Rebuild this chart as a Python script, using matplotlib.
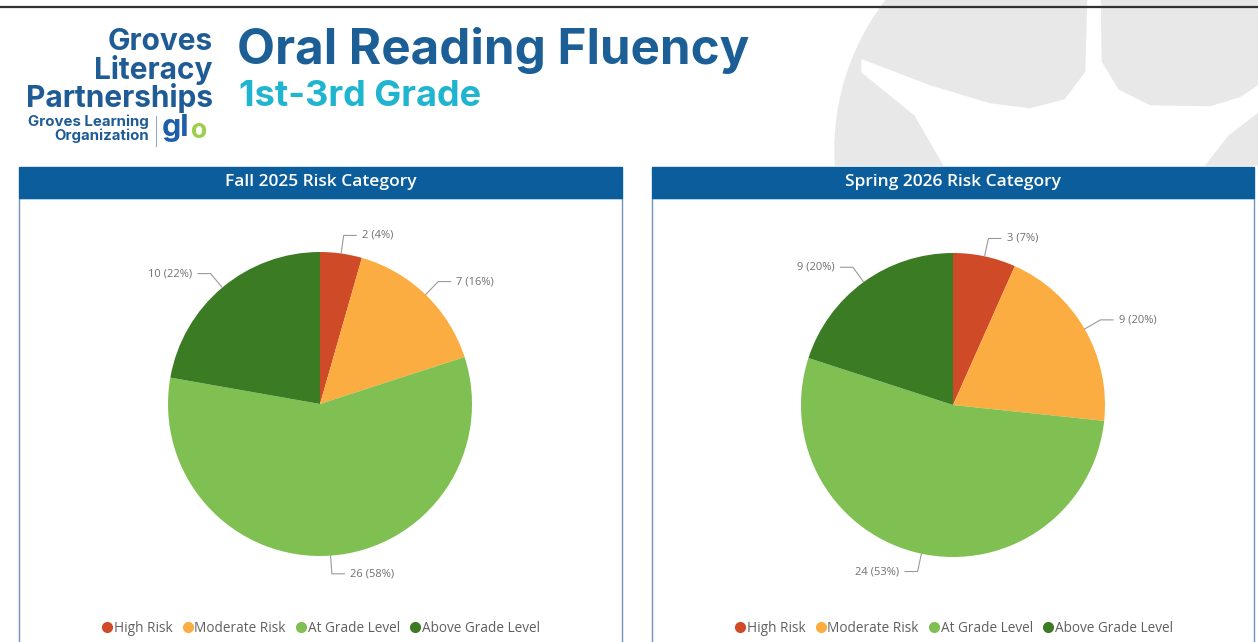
import matplotlib
matplotlib.use("Agg")
import matplotlib.pyplot as plt
from matplotlib.patches import Rectangle, Circle, Polygon
from matplotlib.lines import Line2D
import numpy as np

# data
categories = ["High Risk", "Moderate Risk", "At Grade Level", "Above Grade Level"]
fall_counts = [2, 7, 26, 10]
spring_counts = [3, 9, 24, 9]
panel_titles = ["Fall 2025 Risk Category", "Spring 2026 Risk Category"]
colors = ["#cf4a26", "#fbad41", "#80bf52", "#3b7b23"]

W, H = 1258, 642
fig = plt.figure(figsize=(W / 100, H / 100), dpi=100)
fig.patch.set_facecolor("white")

# background axes in pixel coords
bg = fig.add_axes([0, 0, 1, 1])
bg.set_xlim(0, W)
bg.set_ylim(H, 0)
bg.axis("off")

# decorative gray shape top-right
gray = "#e8e8e8"
bg.add_patch(Circle((1080, 150), 245, color=gray, zorder=0))
bg.add_patch(Polygon([(862, 60), (930, 86), (990, 104), (1030, 109), (1065, 100), (1086, 72),
                      (1088, 0), (1100, 0), (1101, 62), (1118, 90), (1150, 106), (1210, 107),
                      (1240, 98), (1258, 86), (1258, 112), (1228, 135), (1203, 167),
                      (945, 167), (915, 115), (862, 72)], color="white", zorder=0.5))
bg.add_patch(Rectangle((0, 166), W, H, color="white", zorder=0.6))

# top rule
bg.plot([0, W], [7, 7], color="#333333", lw=1.6, zorder=2)

# logo
logo_blue = "#1f5b95"
for txt, y in [("Groves", 42), ("Literacy", 70), ("Partnerships", 98)]:
    bg.text(213, y, txt, ha="right", va="center", fontsize=21.5, fontweight="bold",
            family="Inter", color=logo_blue)
bg.text(149, 122, "Groves Learning", ha="right", va="center", fontsize=10.8,
        fontweight="bold", family="Inter", color=logo_blue)
bg.text(149, 136, "Organization", ha="right", va="center", fontsize=10.8,
        fontweight="bold", family="Inter", color=logo_blue)
bg.plot([156, 156], [116, 146], color="#9aa9bb", lw=0.8)
bg.text(162, 128, "gl", ha="left", va="center", fontsize=22, fontweight="bold",
        family="Inter", color="#1c5fa8")
bg.text(191, 131, "o", ha="left", va="center", fontsize=19, fontweight="bold",
        family="Inter", color="#9ccf4a")

# title
bg.text(237, 50, "Oral Reading Fluency", ha="left", va="center", fontsize=35.5,
        fontweight="bold", family="Inter", color="#1b5f96")
bg.text(239, 97, "1st-3rd Grade", ha="left", va="center", fontsize=26,
        fontweight="bold", family="Inter", color="#1fb4cf")

# panels
panel_x = [(19, 622), (652, 1254)]
for (x0, x1), t in zip(panel_x, panel_titles):
    bg.add_patch(Rectangle((x0, 198), x1 - x0, H, fill=False, ec="#7393b8", lw=1.0, zorder=1))
    bg.add_patch(Rectangle((x0, 167), x1 - x0, 31, color="#0b5e9b", zorder=2))
    bg.text((x0 + x1) / 2, 182, t, ha="center", va="center", color="white",
            fontsize=12.5, family="Open Sans", fontweight="semibold", zorder=3)

# pies
R = 152
box = 420
L = box / (2 * R)
centers = [(320, 404), (953, 405)]
for (cx, cy), counts in zip(centers, [fall_counts, spring_counts]):
    ax = fig.add_axes([(cx - box / 2) / W, (H - cy - box / 2) / H, box / W, box / H])
    wedges, _ = ax.pie(counts, colors=colors, startangle=90, counterclock=False,
                       wedgeprops=dict(linewidth=0))
    ax.set_xlim(-L, L)
    ax.set_ylim(-L, L)
    ax.set_aspect("equal")
    ax.axis("off")
    total = sum(counts)
    for w, n in zip(wedges, counts):
        ang = np.deg2rad((w.theta1 + w.theta2) / 2)
        c, s = np.cos(ang), np.sin(ang)
        sgn = 1 if c >= 0 else -1
        ex, ey = 1.12 * c, 1.12 * s
        lbl = f"{n} ({round(100 * n / total):.0f}%)"
        ax.annotate(lbl, xy=(1.0 * c, 1.0 * s), xytext=(ex + sgn * 0.12, ey),
                    ha="left" if sgn > 0 else "right", va="center",
                    fontsize=8, color="#707070", family="Open Sans",
                    arrowprops=dict(arrowstyle="-", color="#9a9a9a", lw=0.8,
                                    shrinkA=2, shrinkB=0,
                                    connectionstyle=f"angle,angleA=0,angleB={np.rad2deg(ang):.1f},rad=0"))

    handles = [Line2D([], [], marker="o", ls="none", markersize=7, markerfacecolor=col,
                      markeredgecolor=col) for col in colors]
    fig.legend(handles, categories, loc="center", bbox_to_anchor=(cx / W, 1 - 628 / H),
               ncol=4, frameon=False, handletextpad=0.0, columnspacing=0.6,
               handlelength=1.0, labelcolor="#606060", prop=dict(family="Open Sans", size=9.8))

fig.savefig("out.png", dpi=100)
